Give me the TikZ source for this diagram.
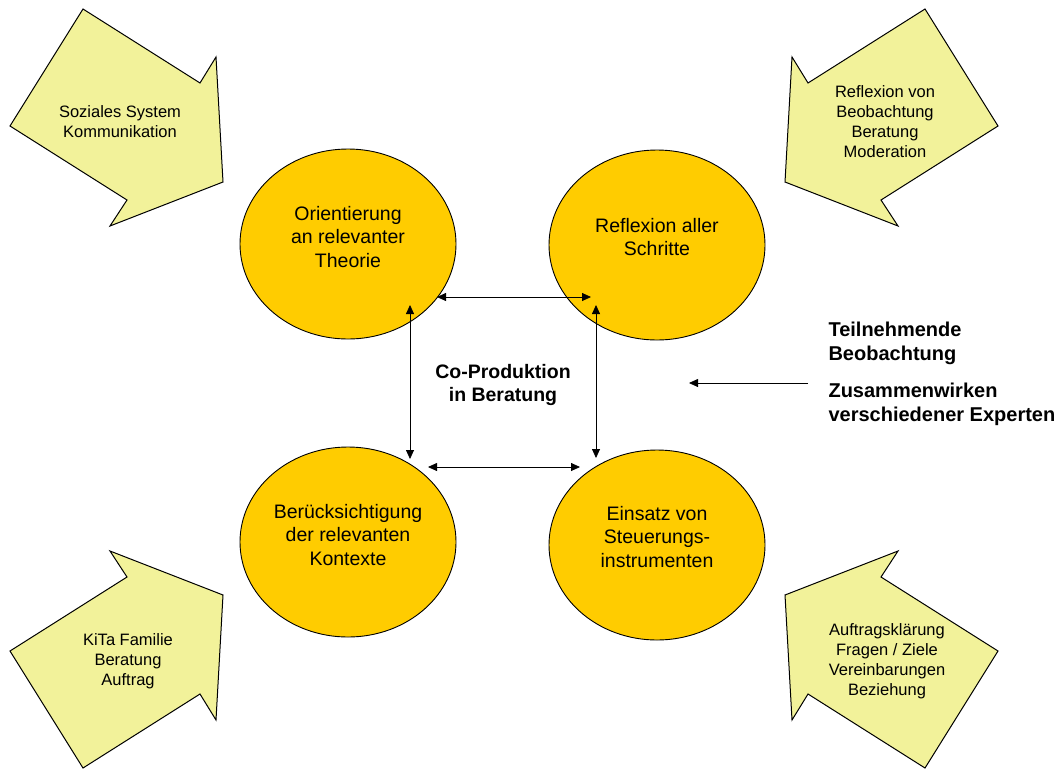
\documentclass[tikz,border=0pt]{standalone}
\usepackage{fontspec}
\setmainfont{Liberation Sans}
\usetikzlibrary{arrows.meta,shapes.geometric}
\definecolor{discfill}{HTML}{FFCC00}
\definecolor{padfill}{HTML}{F2F29A}
\begin{document}
\begin{tikzpicture}[x=1pt,y=-1pt,
  disc/.style={draw=black, line width=0.9pt, fill=discfill, ellipse,
    minimum width=216pt, minimum height=190pt, inner sep=0pt},
  disctext/.style={align=center, font=\fontsize{19.5}{23.5}\selectfont},
  pad/.style={draw=black, line width=1pt, fill=padfill, line join=miter},
  padtext/.style={align=center, font=\fontsize{16.5}{20}\selectfont},
  boldtext/.style={font=\fontsize{19.5}{23.5}\selectfont\bfseries},
  notetext/.style={font=\fontsize{20}{24}\selectfont\bfseries, align=left, anchor=west},
  dbl/.style={{Triangle[length=9pt,width=8pt]}-{Triangle[length=9pt,width=8pt]}, line width=0.8pt},
  sgl/.style={-{Triangle[length=9pt,width=8pt]}, line width=0.8pt}]
\useasboundingbox (0,0) rectangle (1059,769);
\fill[white] (0,0) rectangle (1059,769);

% corner block arrows
\filldraw[pad] (83,9) -- (200,83) -- (216,57) -- (223,182) -- (110,226) -- (127,200) -- (10,126) -- cycle;
\filldraw[pad] (925,9) -- (808,83) -- (792,57) -- (785,182) -- (898,226) -- (881,200) -- (998,126) -- cycle;
\filldraw[pad] (83,768) -- (200,694) -- (216,720) -- (223,595) -- (110,551) -- (127,577) -- (10,651) -- cycle;
\filldraw[pad] (925,768) -- (808,694) -- (792,720) -- (785,595) -- (898,551) -- (881,577) -- (998,651) -- cycle;

\node[padtext] (ptl) at (120,122) {Soziales System\\Kommunikation};
\node[padtext] (ptr) at (885,122) {Reflexion von\\Beobachtung\\Beratung\\Moderation};
\node[padtext] (pbl) at (128,661) {KiTa Familie\\Beratung\\Auftrag};
\node[padtext] (pbr) at (887,661) {Auftragsklärung\\Fragen / Ziele\\Vereinbarungen\\Beziehung};

% four discs
\node[disc] (tl) at (348,244) {};
\node[disc] (tr) at (657,245) {};
\node[disc] (bl) at (348,542) {};
\node[disc] (br) at (657,545) {};

\node[disctext] (tlt) at (348,237) {Orientierung\\an relevanter\\Theorie};
\node[disctext] (trt) at (657,237) {Reflexion aller\\Schritte};
\node[disctext] (blt) at (348,535) {Berücksichtigung\\der relevanten\\Kontexte};
\node[disctext] (brt) at (657,537) {Einsatz von\\Steuerungs-\\instrumenten};

% centre label
\node[boldtext, align=center] (co) at (503,385) {Co-Produktion\\in Beratung};

% connector end points on the discs
\coordinate (tA) at (437,297);
\coordinate (tB) at (591,297);
\coordinate (lA) at (410,305);
\coordinate (lB) at (410,459);
\coordinate (rA) at (596,305);
\coordinate (rB) at (596,458);
\coordinate (bA) at (428,467);
\coordinate (bB) at (580,467);

\draw[dbl] (tA) -- (tB);
\draw[dbl] (lA) -- (lB);
\draw[dbl] (rA) -- (rB);
\draw[dbl] (bA) -- (bB);

% right-hand notes
\node[notetext] (note1) at (825,343) {Teilnehmende\\Beobachtung};
\node[notetext] (note2) at (825,404) {Zusammenwirken\\verschiedener Experten};
\coordinate (pS) at (808,383);
\coordinate (pE) at (689,383);
\draw[sgl] (pS) -- (pE);
\end{tikzpicture}
\end{document}
